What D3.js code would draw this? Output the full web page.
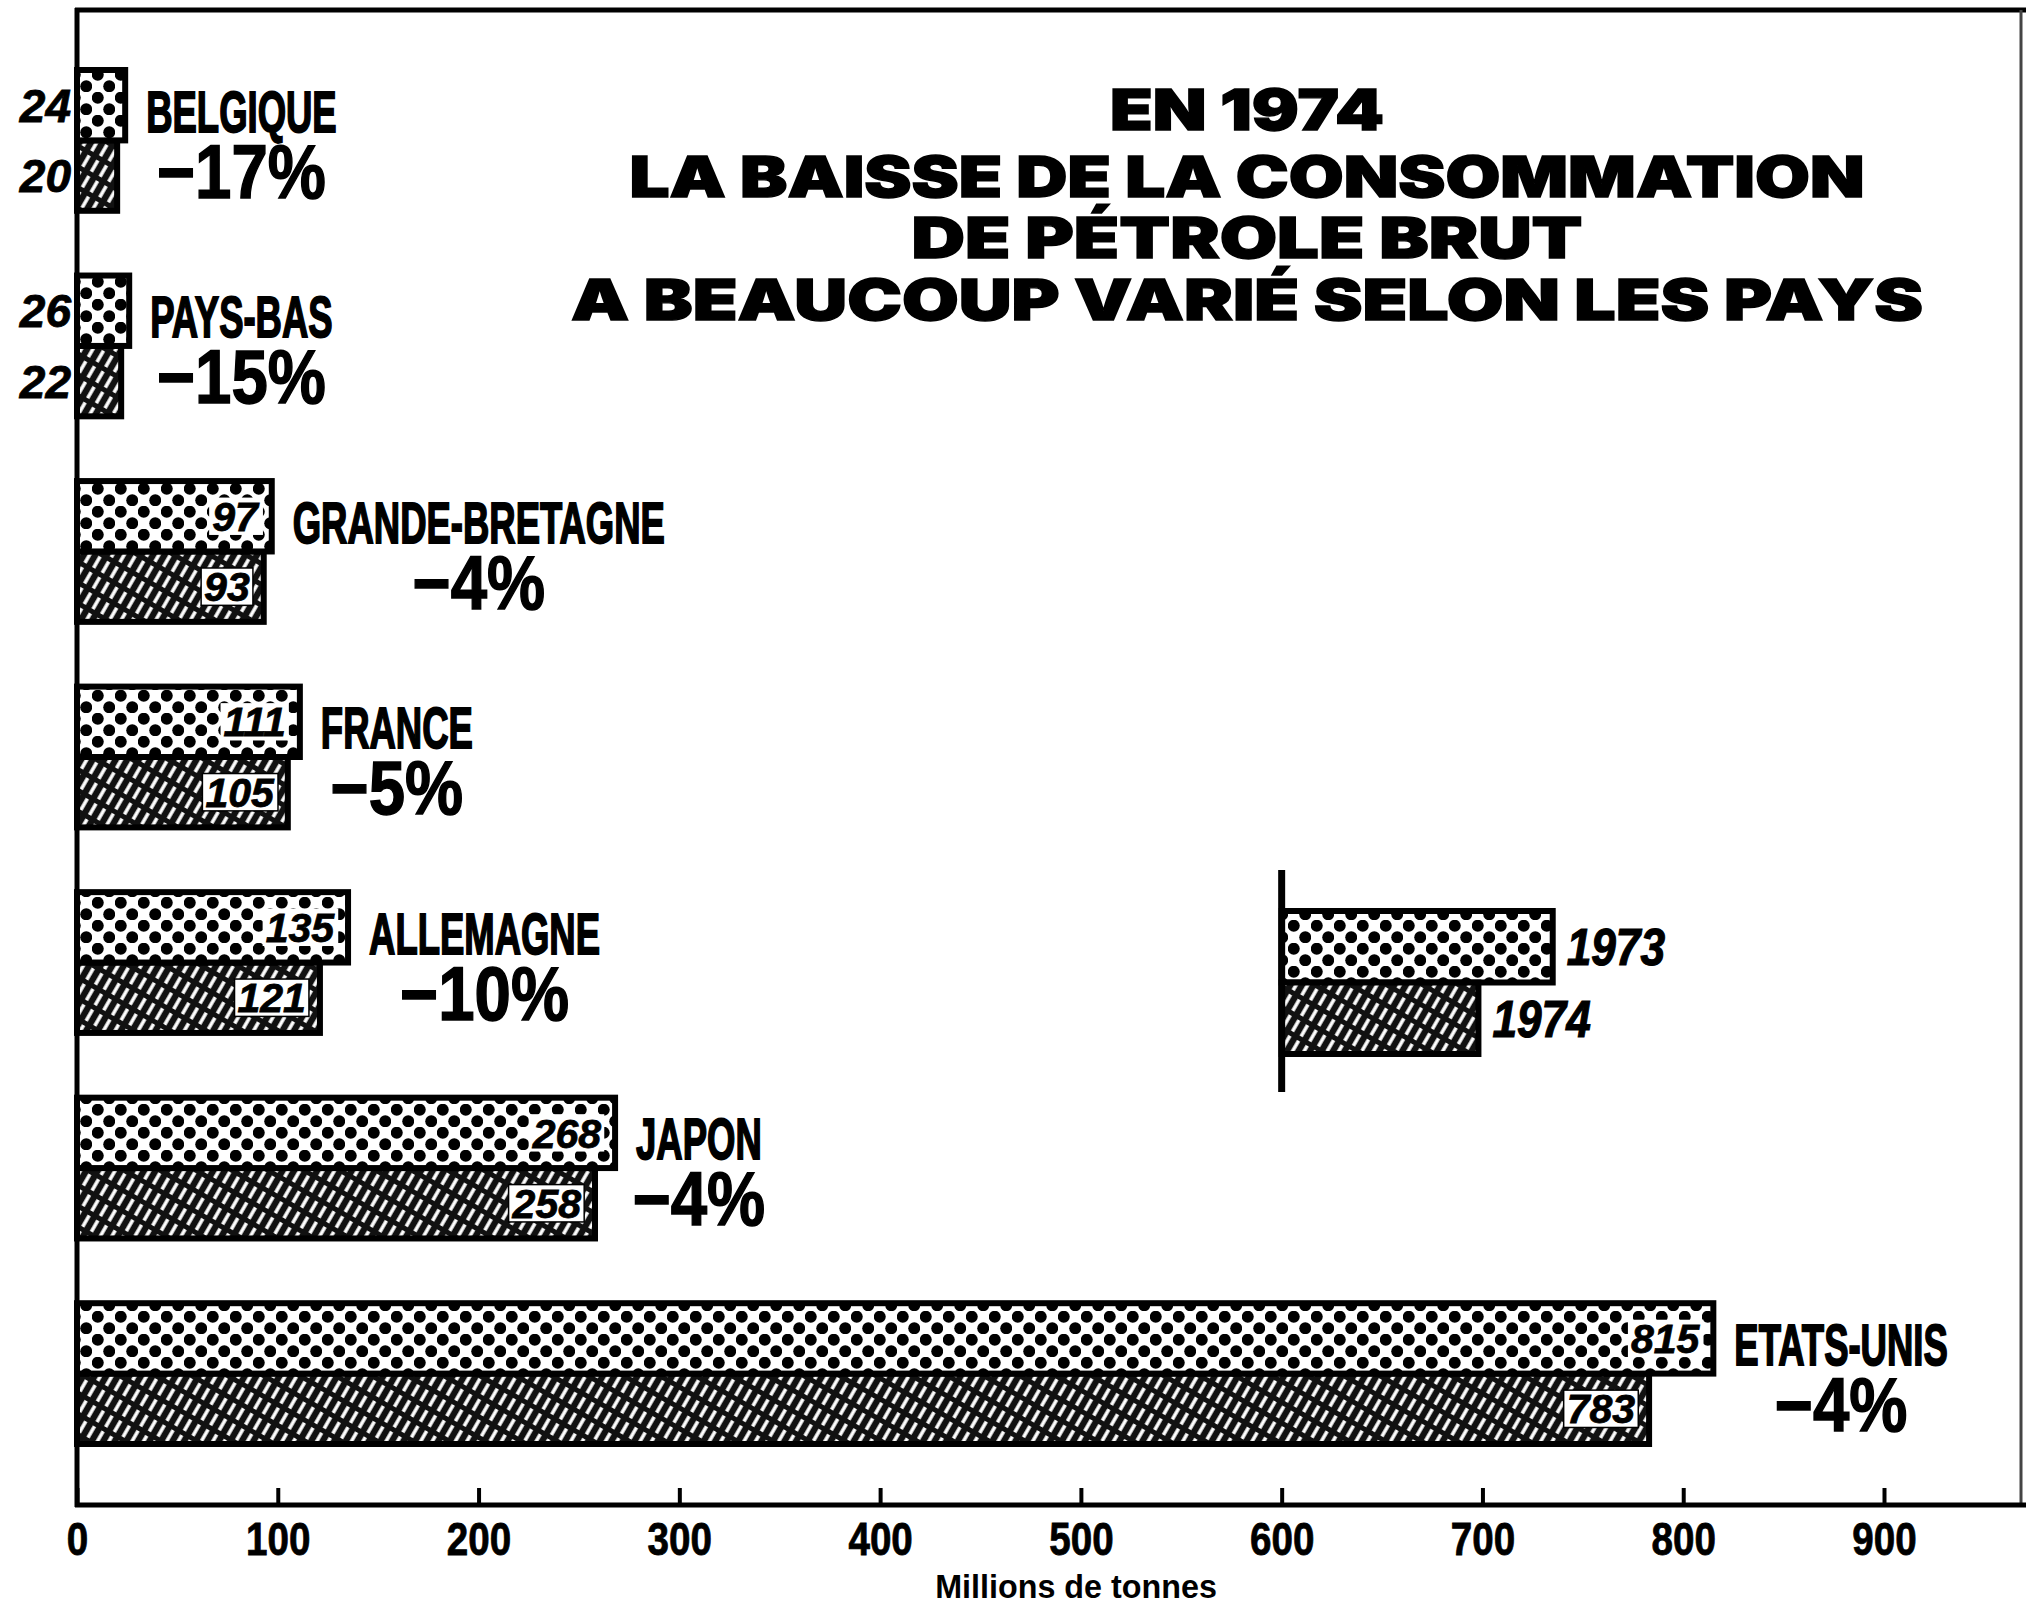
<!DOCTYPE html>
<html><head><meta charset="utf-8">
<script src="https://cdn.jsdelivr.net/npm/d3@7"></script>
<style>html,body{margin:0;padding:0;background:#fff;} svg{display:block}</style>
</head><body>
<svg id="chart" width="2026" height="1606"></svg>
<script>
// ---------- DATA ----------
const countries = ["BELGIQUE","PAYS-BAS","GRANDE-BRETAGNE","FRANCE","ALLEMAGNE","JAPON","ETATS-UNIS"];
const values1973 = [24, 26, 97, 111, 135, 268, 815];
const values1974 = [20, 22, 93, 105, 121, 258, 783];
const changes = ["−17%","−15%","−4%","−5%","−10%","−4%","−4%"];
const xTicks = [0,100,200,300,400,500,600,700,800,900];
const titleLines = ["EN 1974","LA BAISSE DE LA CONSOMMATION","DE PÉTROLE BRUT","A BEAUCOUP VARIÉ SELON LES PAYS"];
const years = ["1973","1974"];
const legendBase = 600;
const legendEnds = [735, 698];
const axisTitle = "Millions de tonnes";

// ---------- LAYOUT ----------
const W = 2026, H = 1606;
const FONT = "'Liberation Sans', Arial, Helvetica, sans-serif";
const TITLE_FONT = "Inter, Roboto, 'Liberation Sans', Arial, sans-serif";
const axisY = 1505, topY = 10, rightX = 2021;
const titleCX = 1247;
const titleBaselines = [130, 197, 258, 320];
const titleWidths = [274, 1235, 671, 1352];

const svg = d3.select("#chart");
svg.append("rect").attr("width", W).attr("height", H).attr("fill", "#fff");

const defs = svg.append("defs");
const dots = defs.append("pattern").attr("id","dots").attr("patternUnits","userSpaceOnUse")
  .attr("width",23).attr("height",23);
dots.append("rect").attr("width",23).attr("height",23).attr("fill","#fff");
dots.append("circle").attr("cx",5.75).attr("cy",5.75).attr("r",6).attr("fill","#000");
dots.append("circle").attr("cx",17.25).attr("cy",17.25).attr("r",6).attr("fill","#000");

const hatch = defs.append("pattern").attr("id","hatch").attr("patternUnits","userSpaceOnUse")
  .attr("width",10).attr("height",18).attr("patternTransform","rotate(30)");
hatch.append("rect").attr("width",10).attr("height",18).attr("fill","#111");
hatch.append("line").attr("x1",5).attr("y1",0).attr("x2",5).attr("y2",18)
  .attr("stroke","#fff").attr("stroke-width",3.5).attr("stroke-dasharray","13 5");

const x = d3.scaleLinear().domain([0, 900]).range([77, 1884]);
const y = d3.scaleBand().domain(countries).range([70, 1444]).paddingInner(0.315);
const bh = y.bandwidth() / 2;

const rows = countries.map((c, i) => ({c, v73: values1973[i], v74: values1974[i], pct: changes[i]}));

// frame lines
svg.append("line").attr("x1",75).attr("x2",W).attr("y1",topY).attr("y2",topY)
  .attr("stroke","#000").attr("stroke-width",5);
svg.append("line").attr("x1",rightX).attr("x2",rightX).attr("y1",topY).attr("y2",axisY)
  .attr("stroke","#444").attr("stroke-width",3);
svg.append("line").attr("x1",x(0)).attr("x2",x(0)).attr("y1",topY-2).attr("y2",axisY+2)
  .attr("stroke","#000").attr("stroke-width",5);

// bars
const bars = svg.append("g");
bars.selectAll("rect.b74").data(rows).join("rect").attr("class","b74")
  .attr("x", x(0)).attr("y", d => y(d.c) + bh)
  .attr("width", d => x(d.v74) - x(0)).attr("height", bh)
  .attr("fill","url(#hatch)").attr("stroke","#000").attr("stroke-width",6);
bars.selectAll("rect.b73").data(rows).join("rect").attr("class","b73")
  .attr("x", x(0)).attr("y", d => y(d.c))
  .attr("width", d => x(d.v73) - x(0)).attr("height", bh)
  .attr("fill","url(#dots)").attr("stroke","#000").attr("stroke-width",6);

// value labels
const vg = svg.append("g");
function valueLabel(v, cy, bordered) {
  const fs = v < 50 ? 46 : 41;
  const inside = v >= 50;
  const t = vg.append("text")
    .attr("x", inside ? x(v) - 14 : x(0) - 6)
    .attr("y", cy + 0.358 * fs)
    .attr("text-anchor","end")
    .attr("font-family", FONT).attr("font-weight","bold").attr("font-style","italic")
    .attr("font-size", fs).attr("fill","#000").attr("stroke","#000").attr("stroke-width",0.8)
    .text(v);
  if (inside) {
    const bb = t.node().getBBox();
    vg.insert("rect", () => t.node())
      .attr("x", bb.x - 3).attr("y", cy - 0.358*fs - 4)
      .attr("width", bb.width + 6).attr("height", 0.716*fs + 8)
      .attr("fill","#fff").attr("stroke", bordered ? "#000" : "none").attr("stroke-width",1.5);
  }
}
rows.forEach(d => {
  valueLabel(d.v73, y(d.c) + bh/2, false);
  valueLabel(d.v74, y(d.c) + bh*1.5, true);
});

// country names and percentages
const lg = svg.append("g");
const NAME_FS = 57, NAME_SX = 0.64, PCT_FS = 76, PCT_SX = 0.86;
rows.forEach(d => {
  const nx = x(d.v73) + 21;
  const ny = y(d.c) + bh/2 + 6 + 0.358*NAME_FS;
  const name = lg.append("text")
    .attr("transform", `translate(${nx},${ny}) scale(${NAME_SX},1)`)
    .attr("font-family", FONT).attr("font-weight","bold").attr("font-size", NAME_FS)
    .attr("fill","#000").attr("stroke","#000").attr("stroke-width",1.8)
    .text(d.c);
  const w = name.node().getComputedTextLength() * NAME_SX;
  const px = nx + w/2;
  const py = y(d.c) + bh*1.5 - 5 + 0.358*PCT_FS;
  lg.append("text")
    .attr("transform", `translate(${px},${py}) scale(${PCT_SX},1)`)
    .attr("text-anchor","middle")
    .attr("font-family", FONT).attr("font-weight","bold").attr("font-size", PCT_FS)
    .attr("fill","#000").attr("stroke","#000").attr("stroke-width",1.5)
    .text(d.pct);
});

// title
const tg = svg.append("g");
titleLines.forEach((line, i) => {
  tg.append("text")
    .attr("x", titleCX).attr("y", titleBaselines[i])
    .attr("text-anchor","middle")
    .attr("font-family", TITLE_FONT).attr("font-weight", 900).attr("font-size", 56)
    .attr("textLength", titleWidths[i]).attr("lengthAdjust","spacingAndGlyphs")
    .attr("fill","#000").attr("stroke","#000").attr("stroke-width",1.4)
    .text(line);
});

// axis
const axis = d3.axisBottom(x).tickValues(xTicks).tickSize(-17).tickPadding(17).tickFormat(d3.format("d"));
const gx = svg.append("g").attr("transform", `translate(0,${axisY})`).call(axis);
gx.select(".domain").remove();
gx.selectAll(".tick line").attr("stroke","#000").attr("stroke-width",4);
gx.selectAll(".tick text")
  .attr("font-family", FONT).attr("font-size", 46).attr("font-weight","bold")
  .attr("fill","#000").attr("stroke","#000").attr("stroke-width",0.8)
  .attr("transform","scale(0.84,1)");
svg.append("line").attr("x1", x(0) - 2).attr("x2", W).attr("y1", axisY).attr("y2", axisY)
  .attr("stroke","#000").attr("stroke-width",5);

svg.append("text")
  .attr("transform", `translate(1076,1598) scale(0.95,1)`)
  .attr("text-anchor","middle")
  .attr("font-family", FONT).attr("font-weight","bold").attr("font-size", 34)
  .attr("fill","#000").text(axisTitle);

// legend
const ly = d3.scaleBand().domain(years).range([911, 1054]);
const legend = svg.append("g");
legend.selectAll("rect").data(years).join("rect")
  .attr("x", x(legendBase)).attr("y", d => ly(d))
  .attr("width", (d, i) => x(legendEnds[i]) - x(legendBase)).attr("height", ly.bandwidth())
  .attr("fill", (d, i) => i === 0 ? "url(#dots)" : "url(#hatch)")
  .attr("stroke","#000").attr("stroke-width",6);
legend.append("line").attr("x1", x(legendBase)).attr("x2", x(legendBase))
  .attr("y1", 870).attr("y2", 1092).attr("stroke","#000").attr("stroke-width",7);
years.forEach((yr, i) => {
  legend.append("text")
    .attr("transform", `translate(${x(legendEnds[i]) + 14},${ly(yr) + ly.bandwidth()/2 + 0.358*52}) scale(0.85,1)`)
    .attr("font-family", FONT).attr("font-weight","bold").attr("font-style","italic")
    .attr("font-size", 52).attr("fill","#000").attr("stroke","#000").attr("stroke-width",1.2)
    .text(yr);
});
</script>
</body></html>
